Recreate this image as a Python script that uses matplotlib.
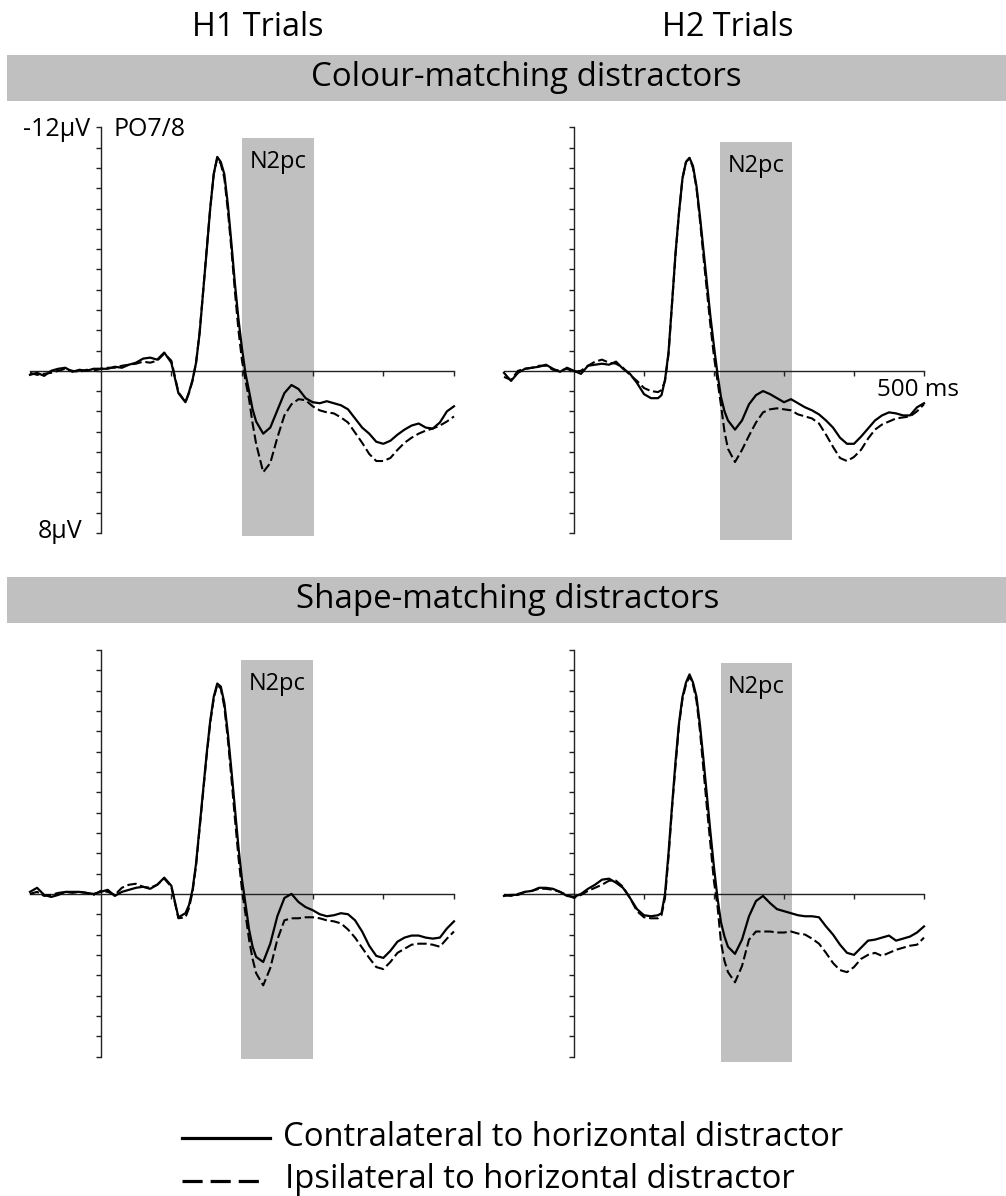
import matplotlib
matplotlib.use('Agg')
import matplotlib.pyplot as plt
from matplotlib.patches import Rectangle
from matplotlib.lines import Line2D

plt.rcParams['font.family'] = ['Open Sans', 'DejaVu Sans']

# time points (ms) shared by every waveform
times = [-100, -90, -80, -70, -60, -50, -40, -30, -20, -10, 0, 10, 20, 30, 40, 50,
         60, 70, 80, 90, 100, 110, 120,
         125, 130, 135, 140, 145, 150, 155, 160, 165, 170, 175, 180, 185, 190, 195,
         200, 205, 210, 215,
         220, 230, 240, 250, 260, 270, 280, 290, 300, 310, 320, 330, 340, 350, 360,
         370, 380, 390, 400, 410, 420, 430, 440, 450, 460, 470, 480, 490, 500]

# amplitudes in microvolts (negative is drawn upwards)
h1_colour_contra = [0.2, 0.1, 0.25, 0.0, -0.1, -0.15, 0.05, -0.05, 0.0, -0.1, -0.1, -0.1, -0.2, -0.15, -0.3, -0.4,
                    -0.6, -0.65, -0.55, -0.9, -0.4, 1.1, 1.55,
                    1.05, 0.45, -0.4, -1.85, -3.9, -5.9, -8.0, -9.7, -10.55, -10.3, -9.7, -8.2, -6.3, -4.3, -2.55,
                    -1.1, 0.15, 1.0, 1.9,
                    2.5, 3.1, 2.8, 1.95, 1.1, 0.7, 0.9, 1.35, 1.55, 1.6, 1.5, 1.6, 1.7, 1.9, 2.35,
                    2.8, 3.1, 3.5, 3.6, 3.45, 3.15, 2.9, 2.7, 2.6, 2.8, 2.85, 2.55, 2.0, 1.75]
h1_colour_ipsi = [0.1, 0.2, 0.15, 0.1, 0.0, -0.1, 0.0, 0.05, -0.05, 0.0, -0.1, -0.15, -0.15, -0.25, -0.3, -0.35,
                  -0.45, -0.4, -0.5, -0.85, -0.5, 1.05, 1.55,
                  1.1, 0.5, -0.4, -1.9, -3.9, -6.0, -8.0, -9.7, -10.5, -10.2, -9.5, -7.9, -6.0, -3.9, -2.0,
                  -0.5, 0.5, 1.4, 2.6,
                  3.6, 5.0, 4.55, 3.3, 2.2, 1.65, 1.4, 1.45, 1.75, 1.95, 2.05, 2.1, 2.3, 2.55, 3.05,
                  3.55, 4.1, 4.45, 4.45, 4.3, 3.9, 3.55, 3.3, 3.1, 2.95, 2.85, 2.7, 2.5, 2.25]

h2_colour_contra = [0.1, 0.5, 0.1, -0.1, -0.15, -0.2, -0.3, -0.1, 0.05, -0.15, 0.0, 0.15, -0.25, -0.3, -0.35, -0.3,
                    -0.45, -0.1, 0.15, 0.6, 1.15, 1.35, 1.35,
                    1.2, 0.45, -0.9, -3.3, -5.8, -7.8, -9.5, -10.3, -10.5, -10.1, -9.1, -7.6, -5.95, -4.3, -2.65,
                    -1.2, 0.15, 1.3, 2.0,
                    2.45, 2.9, 2.45, 1.65, 1.2, 1.0, 1.15, 1.35, 1.55, 1.4, 1.6, 1.8, 1.95, 2.15, 2.45,
                    2.8, 3.3, 3.6, 3.6, 3.25, 2.85, 2.45, 2.2, 2.05, 2.1, 2.2, 2.2, 1.8, 1.6]
h2_colour_ipsi = [0.3, 0.45, 0.0, -0.1, -0.15, -0.25, -0.25, -0.05, 0.0, -0.1, 0.05, 0.0, -0.25, -0.45, -0.55, -0.4,
                  -0.35, -0.15, 0.2, 0.5, 0.85, 1.0, 1.05,
                  0.95, 0.5, -0.8, -3.3, -5.7, -7.8, -9.5, -10.3, -10.5, -10.0, -9.0, -7.4, -5.6, -3.9, -2.2,
                  -0.7, 0.5, 1.7, 3.0,
                  3.85, 4.5, 3.9, 3.2, 2.55, 2.05, 1.9, 1.85, 1.9, 1.95, 2.15, 2.25, 2.35, 2.6, 3.15,
                  3.75, 4.3, 4.45, 4.25, 3.9, 3.35, 2.9, 2.65, 2.5, 2.35, 2.3, 2.25, 2.0, 1.65]

h1_shape_contra = [-0.1, -0.3, 0.05, 0.15, 0.05, -0.1, -0.1, -0.1, -0.05, 0.0, -0.1, -0.2, 0.1, -0.1, -0.2, -0.3,
                   -0.35, -0.25, -0.45, -0.8, -0.4, 1.15, 0.95,
                   0.55, -0.2, -1.5, -3.3, -5.1, -6.9, -8.5, -9.7, -10.35, -10.2, -9.4, -7.9, -6.1, -4.2, -2.3,
                   -0.7, 0.5, 1.75, 2.6,
                   3.1, 3.35, 2.45, 1.1, 0.2, 0.0, 0.4, 0.65, 0.8, 1.0, 1.1, 1.05, 0.95, 1.0, 1.3,
                   1.85, 2.55, 3.05, 3.15, 2.8, 2.35, 2.15, 2.05, 2.05, 2.15, 2.2, 2.15, 1.7, 1.35]
h1_shape_ipsi = [0.0, -0.1, 0.1, 0.05, -0.05, -0.1, -0.05, -0.1, -0.05, 0.05, -0.15, -0.1, 0.05, -0.3, -0.45, -0.5,
                 -0.35, -0.3, -0.45, -0.75, -0.35, 1.2, 1.15,
                 0.7, -0.1, -1.4, -3.2, -5.0, -6.8, -8.4, -9.6, -10.3, -10.1, -9.2, -7.6, -5.7, -3.7, -1.8,
                 -0.2, 1.0, 2.25, 3.2,
                 3.9, 4.5, 3.65, 2.25, 1.3, 1.2, 1.2, 1.15, 1.15, 1.2, 1.3, 1.35, 1.45, 1.75, 2.15,
                 2.65, 3.15, 3.6, 3.7, 3.35, 2.9, 2.7, 2.5, 2.45, 2.45, 2.5, 2.6, 2.2, 1.85]

h2_shape_contra = [0.1, 0.05, 0.05, -0.1, -0.15, -0.3, -0.3, -0.25, -0.1, 0.1, 0.15, 0.0, -0.25, -0.45, -0.7, -0.75,
                   -0.55, -0.3, 0.2, 0.75, 1.05, 1.1, 1.05,
                   0.95, 0.0, -2.0, -4.3, -6.5, -8.4, -9.7, -10.4, -10.8, -10.4, -9.7, -8.3, -6.6, -4.8, -3.0,
                   -1.3, 0.2, 1.4, 2.1,
                   2.6, 2.95, 2.25, 1.1, 0.35, 0.1, 0.45, 0.75, 0.85, 0.95, 1.05, 1.1, 1.1, 1.15, 1.6,
                   2.0, 2.5, 2.9, 3.0, 2.65, 2.3, 2.25, 2.15, 2.05, 2.3, 2.2, 2.1, 1.9, 1.6]
h2_shape_ipsi = [0.05, 0.1, 0.0, -0.1, -0.15, -0.25, -0.25, -0.2, -0.1, 0.05, 0.2, 0.05, -0.15, -0.3, -0.45, -0.65,
                 -0.65, -0.35, 0.2, 0.85, 1.15, 1.2, 1.2,
                 1.05, 0.2, -1.8, -4.2, -6.3, -8.3, -9.6, -10.3, -10.7, -10.3, -9.5, -8.0, -6.1, -4.2, -2.4,
                 -0.6, 0.6, 2.4, 3.3,
                 3.85, 4.35, 3.55, 2.25, 1.85, 1.85, 1.85, 1.9, 1.9, 1.85, 1.95, 2.0, 2.2, 2.45, 2.9,
                 3.4, 3.75, 3.85, 3.6, 3.2, 3.0, 2.9, 3.05, 2.9, 2.75, 2.65, 2.55, 2.5, 2.15]

col_titles = ['H1 Trials', 'H2 Trials']
row_titles = ['Colour-matching distractors', 'Shape-matching distractors']
legend_labels = ['Contralateral to horizontal distractor', 'Ipsilateral to horizontal distractor']

# N2pc window per panel: (start ms, end ms, top uV, bottom uV)
n2pc_boxes = [[(200, 302, -11.5, 8.15), (209, 311, -11.3, 8.35)],
              [(199, 300, -11.5, 8.1), (210, 311, -11.35, 8.25)]]

curves = [[(h1_colour_contra, h1_colour_ipsi), (h2_colour_contra, h2_colour_ipsi)],
          [(h1_shape_contra, h1_shape_ipsi), (h2_shape_contra, h2_shape_ipsi)]]

W, H = 1006, 1196
GREY = '#c0c0c0'


def fx(x):
    return x / W


def fy(y):
    return 1 - y / H


fig = plt.figure(figsize=(W / 100, H / 100), dpi=100)

# panel extents in pixels
col_x = [(30, 454), (504, 924)]
row_y = [(127.5, 533), (650, 1056.5)]

for r in range(2):
    for c in range(2):
        x0, x1 = col_x[c]
        y0, y1 = row_y[r]
        ax = fig.add_axes([fx(x0), fy(y1), (x1 - x0) / W, (y1 - y0) / H])
        ax.patch.set_visible(False)
        ax.set_xlim(-100, 500)
        ax.set_ylim(8, -12)
        for s in ['top', 'right']:
            ax.spines[s].set_visible(False)
        ax.spines['left'].set_position(('data', 0))
        ax.spines['bottom'].set_position(('data', 0))
        for s in ['left', 'bottom']:
            ax.spines[s].set_linewidth(1.0)
            ax.spines[s].set_color('#222222')
        ax.set_xticks([100, 200, 300, 400, 500])
        ax.set_yticks(range(-12, 9))
        ax.tick_params(direction='out', length=3.8, width=1.0, color='#222222',
                       labelbottom=False, labelleft=False)

        t0, t1, v0, v1 = n2pc_boxes[r][c]
        ax.add_patch(Rectangle((t0, v0), t1 - t0, v1 - v0, facecolor=GREY,
                               edgecolor='none', zorder=0.5, clip_on=False))
        ax.text((t0 + t1) / 2, v0 + 1.18, 'N2pc', ha='center', va='center', fontsize=17)

        contra, ipsi = curves[r][c]
        ax.plot(times, ipsi, color='black', lw=1.5, linestyle=(0, (4.5, 1.8)),
                clip_on=False, zorder=3)
        ax.plot(times, contra, color='black', lw=1.6, clip_on=False, zorder=4)

        if r == 0 and c == 1:
            ax.text(491, 0.95, '500 ms', ha='center', va='center', fontsize=17.5)

# column headers
fig.text(fx(258), fy(28), col_titles[0], ha='center', va='center', fontsize=23.3)
fig.text(fx(728), fy(28), col_titles[1], ha='center', va='center', fontsize=23.3)

# grey condition bands
for (yt, yb), title, xc in [((55, 100.7), row_titles[0], 526), ((577.3, 622.7), row_titles[1], 508)]:
    fig.add_artist(Rectangle((fx(7.3), fy(yb)), 1 - fx(7.3), (yb - yt) / H,
                             transform=fig.transFigure, facecolor=GREY, edgecolor='none'))
    fig.text(fx(xc), fy((yt + yb) / 2), title, ha='center', va='center', fontsize=23.8)

# axis labels on the first panel
fig.text(fx(90), fy(129), '-12µV', ha='right', va='center', fontsize=18)
fig.text(fx(113), fy(129), 'PO7/8', ha='left', va='center', fontsize=18)
fig.text(fx(82), fy(532), '8µV', ha='right', va='center', fontsize=18)

# legend
fig.add_artist(Line2D([fx(182), fx(270)], [fy(1138), fy(1138)], color='black', lw=2.3))
fig.add_artist(Line2D([fx(182), fx(259)], [fy(1181), fy(1181)], color='black', lw=2.3,
                      linestyle=(0, (6.3, 2.5))))
fig.text(fx(283), fy(1137), legend_labels[0], ha='left', va='center', fontsize=23.7)
fig.text(fx(285), fy(1179), legend_labels[1], ha='left', va='center', fontsize=23.7)

fig.savefig('out.png', dpi=100)
